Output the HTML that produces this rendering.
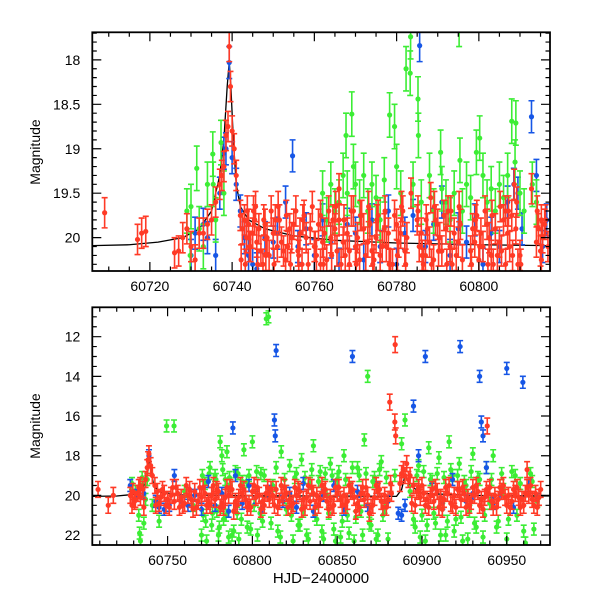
<!DOCTYPE html>
<html><head><meta charset="utf-8">
<style>
html,body{margin:0;padding:0;background:#fff;}
svg{display:block;font-family:"Liberation Sans",sans-serif;}
</style></head>
<body>
<svg id="chart" width="600" height="600" viewBox="0 0 600 600" xmlns="http://www.w3.org/2000/svg">
<defs>
<clipPath id="clipTop"><rect x="92.3" y="32.3" width="457.7" height="238.7"/></clipPath>
<clipPath id="clipBot"><rect x="92.3" y="307.3" width="457.7" height="237.7"/></clipPath>
</defs>
<g id="topPanel"></g>
<g id="botPanel"></g>
<text x="40" y="152" transform="rotate(-90 40 152)" text-anchor="middle" font-size="14">Magnitude</text>
<text x="40" y="426" transform="rotate(-90 40 426)" text-anchor="middle" font-size="14">Magnitude</text>
<text x="321" y="583" text-anchor="middle" font-size="15">HJD−2400000</text>
</svg>
<script>
// ---------- TOP PANEL DATA ----------
const topXTicks = [60720, 60740, 60760, 60780, 60800];
const topYTicks = [18, 18.5, 19, 19.5, 20];
const topYTickLabels = ["18", "18.5", "19", "19.5", "20"];
const topModelT = [60706,60715,60722,60728,60732,60735,60737,60738,60738.8,60739.3,60739.7,60740.3,60741,60742,60744,60748,60755,60765,60780,60800,60817];
const topModelMag = [20.09,20.08,20.05,20.0,19.9,19.7,19.3,18.9,18.3,18.02,18.3,18.9,19.4,19.65,19.8,19.9,19.98,20.03,20.06,20.08,20.09];

const topRedT = [60709,60717,60718,60719,60726,60727,60728,60729,60730,60731,60732,60733,60734,60735,60736,60737,60737.5,60738,60738.5,60739,60739.3,60739.6,60740,60740.5,60741,
60742,60742.5,60743,60743.5,60744,60744.5,60745,60745.5,60746,60746.5,60747,60748,60748.5,60749,60750,60751,60751.5,60752,60753,60754,60754.5,60755,60756,60756.5,60757,60758,60759,60760,60760.5,60761,60762,60762.5,60763,60764,60765,60765.5,60766,60767,60767.5,60768,60769,60770,60770.5,60771,60772,60773,60773.5,60774,60775,60775.5,60776,60777,60777.5,60778,60779,60780,60780.5,60781,60782,60782.5,60785,60785.5,60786,60787,60787.5,60788,60789,60790,60790.5,60791,60792,60793,60793.5,60794,60795,60795.5,60798,60798.5,60799,60800,60800.5,60801,60802,60802.5,60803,60804,60805,60805.5,60806,60807,60807.5,60808,60809,60810,60814,60814.5,60815,60815.5,60816,60816.8,
60743.2,60745.2,60747.5,60750.5,60753.5,60757.5,60761.5,60764.5,60768.5,60771.5,60774.5,60778.5,60781.5,60786.5,60789.5,60792.5,60796,60799.5,60803.5,60806.5,60809.5,60815.2,60766,60783.5,60808.6,60812.8,60788.3];
const topRedMag = [19.72,20.02,19.95,19.93,20.17,20.15,20.0,19.9,20.1,20.25,19.95,19.95,19.85,19.8,19.6,19.4,19.3,19.2,18.85,18.75,17.85,18.3,18.8,19.0,19.3,
19.75,19.9,19.8,20.0,19.85,20.1,19.95,19.8,20.05,19.9,20.15,19.85,20.0,20.2,19.95,20.1,19.8,20.05,20.25,19.9,20.0,19.85,20.15,19.95,20.3,20.0,19.9,20.1,20.2,19.85,20.05,19.95,20.25,20.0,19.9,20.15,19.8,20.05,20.2,19.95,19.7,20.1,20.0,20.25,19.9,20.05,19.85,20.15,20.0,19.75,20.2,19.9,20.1,19.95,20.3,19.85,20.05,19.95,20.15,20.0,19.8,20.1,19.95,20.2,19.9,20.05,20.25,19.85,20.0,20.15,19.9,20.1,20.3,19.95,20.05,19.85,20.15,19.9,20.05,20.25,19.95,20.1,19.85,20.0,20.2,19.9,20.05,20.15,19.8,19.95,20.1,19.75,19.9,20.2,20.05,19.9,20.15,20.0,19.85,20.1,
20.3,19.7,20.3,19.8,20.1,19.75,20.3,19.8,20.3,19.75,20.25,20.3,19.7,20.3,19.8,19.7,20.25,19.75,20.3,19.7,20.3,19.8,19.45,19.5,19.4,19.45,19.55];
const topRedExtraT = [60742.2,60743.7,60744.2,60745.7,60746.2,60747.7,60748.2,60749.5,60750.2,60751.2,60752.5,60753.2,60754.2,60755.5,60756.2,60757.2,60758.5,60759.5,60760.2,60761.5,60762.2,60763.5,60764.2,60765.2,60766.5,60767.2,60768.5,60769.5,60770.2,60771.2,60772.5,60773.2,60774.2,60775.2,60776.5,60777.2,60778.2,60779.5,60780.2,60781.2,60782.2,60785.2,60786.2,60787.2,60788.5,60789.2,60790.2,60791.5,60792.2,60793.2,60794.5,60795.2,60798.2,60799.2,60800.2,60801.5,60802.2,60803.2,60804.5,60805.2,60806.5,60807.2,60808.2,60809.2,60810.2,60814.2,60815.2,60816.2];
const topRedExtraMag = [20.25,19.7,20.1,19.65,20.3,19.8,20.2,19.7,20.3,19.65,20.15,19.75,20.3,19.7,20.2,19.8,20.3,19.65,20.1,19.75,20.3,19.7,20.2,19.65,20.3,19.8,20.15,19.7,20.3,19.75,20.2,19.65,20.3,19.8,20.1,19.7,20.3,19.75,20.2,19.65,20.3,19.7,20.2,19.8,20.3,19.65,20.15,19.75,20.3,19.7,20.2,19.65,20.3,19.8,20.1,19.7,20.3,19.75,20.2,19.65,20.3,19.7,20.2,19.6,20.3,19.7,20.25,19.8];
const topRedErr = 0.17;

const topBlueT = [60730,60731,60733,60734,60736,60737,60738,60738.5,60739.3,60740,60741,60742,60743,60744,60745,60746,60748,60750,60751,60753,60754.7,60756,60758,60760,60762,60764,60766,60768,60770,60772,60774,60776,60778,60780,60782,60784,60785.6,60787,60789,60791,60793,60795,60797,60799,60801,60803,60805,60807,60808.5,60809.5,60810.5,60812.8,60814,60815.5,60816.5];
const topBlueMag = [20.2,19.95,19.85,20.0,20.2,19.5,19.05,19.0,18.03,19.1,19.4,19.7,20.0,20.2,20.3,20.35,20.0,20.05,19.95,19.6,19.08,20.1,19.9,20.2,19.8,20.05,20.3,19.85,19.95,20.25,19.8,20.1,19.7,20.3,19.95,19.75,17.84,20.1,19.85,19.6,20.2,19.9,20.05,19.8,20.3,19.95,20.1,19.6,19.4,19.5,19.9,18.64,19.3,20.1,19.8];
const topBlueErr = 0.18;

const topGreenT = [60729,60729.8,60730,60731.4,60732,60733,60734,60735.3,60735.4,60736,60737.3,60738,
60762,60763,60764,60765,60766,60767,60767.7,60768,60769.1,60769.5,60770,60771,60772,60773,60774,60775,60776,60777,60778.3,60779.5,60780,60781,60782.3,60783.3,60783.4,60784,60785.2,60785.3,60786,60788,60789,60790.7,60791,60792,60793,60794,60795.2,60795.4,60796,60797,60798,60799.4,60800.2,60801,60802,60803,60804,60805,60806,60807,60808,60808.8,60809,60810,60811,60813,60814];
const topGreenMag = [19.7,20.2,19.65,19.22,19.9,20.1,19.4,19.06,19.4,19.8,18.93,19.5,
19.5,19.8,19.4,19.7,19.6,19.3,18.85,19.5,18.61,19.2,19.4,19.6,19.3,19.7,19.4,19.55,19.8,19.35,18.62,18.75,19.2,19.5,18.1,18.15,17.74,19.4,18.44,18.85,19.6,19.3,19.7,19.04,19.45,19.6,19.8,19.5,17.6,19.13,19.7,19.4,19.55,19.04,18.88,19.3,19.6,19.45,19.7,19.4,19.55,19.3,18.69,19.15,18.71,19.5,19.7,19.4,19.6];
const topGreenErr = 0.25;

// ---------- BOTTOM PANEL DATA ----------
const botXTicks = [60750, 60800, 60850, 60900, 60950];
const botYTicks = [12, 14, 16, 18, 20, 22];
const botYTickLabels = ["12", "14", "16", "18", "20", "22"];
const botModelT = [60705,60720,60730,60735,60737,60738.3,60739.3,60740.3,60742,60746,60760,60800,60850,60885,60888,60890,60893,60900,60930,60976];
const botModelMag = [20.05,20.03,19.95,19.7,19.3,18.8,18.0,18.8,19.55,19.85,19.98,20.02,20.03,20.05,19.7,19.0,19.5,19.9,20.0,20.03];

const botRedT = [60709,60715,60718,60728,60729.5,60731,60732.5,60734,60735.5,60737,60738,60739,60740,60741,60742.5,60744,60746,60748,60750,60752,60754,60756,60758,60760,60762,60764,60766,60768,60770,60772,60774,60776,60778,60780,60782,60784,60786,60788,60790,60792,60794,60796,60798,60800,60802,60804,60806,60808,60810,60812,60814,60816,60818,60820,60822,60824,60826,60828,60830,60832,60834,60836,60838,60840,60842,60844,60846,60848,60850,60852,60854,60856,60858,60860,60862,60864,60866,60868,60870,60872,60874,60876,60878,60880,60882,60887,60889,60891,60893,60895,60897,60899,60901,60903,60905,60907,60909,60911,60913,60915,60917,60919,60921,60923,60925,60927,60929,60931,60933,60935,60937,60939,60941,60943,60945,60947,60949,60951,60953,60955,60957,60959,60961,60963,60965,60967,60969,
60729,60733,60736,60743,60747,60751,60755,60759,60763,60767,60771,60775,60779,60783,60787,60791,60795,60799,60803,60807,60811,60815,60819,60823,60827,60831,60835,60839,60843,60847,60851,60855,60859,60863,60867,60871,60875,60879,60890,60894,60898,60902,60906,60910,60914,60918,60922,60926,60930,60934,60938,60942,60946,60950,60954,60958,60962,60966,60970,
60881,60884,60884.5,60938.5,60884.2,60962];
const botRedMag = [19.7,20.5,20.0,20.0,19.8,20.2,19.9,20.1,19.7,19.2,18.6,17.9,18.5,19.0,19.5,19.8,20.1,19.9,20.2,20.0,20.3,19.9,20.1,20.4,20.0,20.2,19.8,20.3,20.1,19.9,20.3,20.0,20.2,19.8,20.4,20.1,20.0,19.7,20.3,20.1,19.9,20.2,20.4,19.8,20.1,20.0,20.3,19.9,20.2,20.0,19.7,20.3,20.1,19.9,20.2,20.4,20.0,19.8,20.2,20.1,20.3,19.9,20.0,20.2,19.8,20.3,20.1,20.5,19.9,20.2,20.0,20.3,19.8,20.1,20.4,19.9,20.2,20.0,20.6,20.1,19.8,20.3,20.0,20.2,19.9,19.4,18.7,18.4,19.0,19.5,19.8,20.1,19.9,20.2,20.0,20.3,19.8,20.1,20.2,19.9,20.4,20.0,19.7,20.2,19.9,20.1,20.3,20.0,19.8,20.2,20.1,19.9,20.3,20.0,20.2,19.8,20.1,20.0,20.3,19.9,20.1,20.2,19.9,20.0,20.2,19.9,20.1,
20.5,19.6,20.6,20.5,19.7,20.6,19.6,20.5,19.7,20.6,19.6,20.5,19.7,20.6,19.6,20.5,19.7,20.6,19.6,20.5,19.7,20.6,19.6,20.5,19.7,20.6,19.6,20.5,19.7,20.6,19.6,20.5,19.7,20.6,19.6,20.5,19.7,20.6,19.0,20.4,19.6,20.5,19.7,20.6,19.6,20.5,19.7,20.6,19.6,20.5,19.7,20.6,19.6,20.5,19.7,20.6,19.6,20.5,19.7,
15.3,16.3,17.0,16.5,12.4,18.7];
const botRedExtraT = [60730.5,60733.8,60738.5,60745,60749,60753,60757,60761,60765,60769,60773,60777,60781,60785,60789,60793,60797,60801,60805,60809,60813,60817,60821,60825,60829,60833,60837,60841,60845,60849,60853,60857,60861,60865,60869,60873,60877,60881.5,60888,60892,60896,60900,60904,60908,60912,60916,60920,60924,60928,60932,60936,60940,60944,60948,60952,60956,60960,60964,60968];
const botRedExtraMag = [20.3,19.5,18.2,20.4,20.5,19.6,20.6,19.5,20.7,19.6,20.5,19.5,20.6,19.6,20.8,19.5,20.6,19.5,20.7,19.6,20.5,19.5,20.6,19.6,20.7,19.5,20.6,19.5,20.7,19.6,20.5,19.5,20.8,19.6,20.9,19.5,20.6,19.4,18.9,19.2,20.5,19.5,20.6,19.6,20.7,19.5,20.6,19.6,20.5,19.5,20.7,19.6,20.6,19.5,20.6,19.6,20.5,19.5,20.6];
const botRedErr = 0.4;

const botBlueT = [60728,60732,60736,60739,60743,60745,60748,60751,60754,60758,60762,60766,60770,60774,60778,60782,60786,60788.5,60790,60794,60798,60802,60806,60810,60813,60813.5,60814,60818,60822,60826,60830,60836,60842,60848,60854,60859,60862,60868,60874,60880,60886,60888,60890,60895,60898,60902,60906,60912,60918,60922.5,60926,60930,60934,60935,60936,60938,60942,60946,60950,60954,60959.5,60963,60968];
const botBlueMag = [19.5,20.0,19.9,18.0,20.3,20.6,20.7,20.5,19.0,20.3,20.5,20.0,20.7,19.3,20.5,19.9,20.8,16.6,19.0,20.4,19.5,20.1,20.6,19.8,16.2,17.0,12.7,20.3,19.9,20.6,19.4,20.8,20.0,19.5,20.7,13.0,19.8,20.5,19.6,20.3,20.9,21.0,20.5,15.5,18.0,13.0,19.7,20.4,19.2,12.5,20.3,19.9,14.0,16.3,17.0,18.6,20.4,19.9,13.6,20.6,14.3,19.5,20.2];
const botBlueErr = 0.3;

const botGreenT = [60729,60731,60733,60733.5,60734,60735,60736,60737,60738,60741,60745,60749.4,60753.8,60760,60765,60770,60771,60772,60773,60775,60776,60778,60779,60780,60781,60782,60783,60784,60785,60786,60787,60789,60790,60791,60792,60794,60795,60797,60798,60800,60801,60803,60805,60806,60808.2,60809.5,60812,60815,60817,60820,60822,60824,60825,60827,60829,60830,60832,60834,60836,60838,60840,60842,60844,60846,60848,60850,60852,60854,60856,60858,60860,60862,60864,60866,60868,60870,60872,60874,60876,60878,60880,60884,60888,60890,60893,60896,60898,60900,60902,60904,60906,60908,60910,60912,60914,60916,60918,60920,60922,60924,60926,60928,60930,60932,60934,60936,60938,60940,60942,60945,60948,60950,60953,60956,60958,60961,60964,60966,60968];
const botGreenMag = [19.4,19.8,21.0,21.9,22.3,19.1,21.4,20.2,19.2,20.5,21.3,16.5,16.5,19.8,20.5,22.0,21.0,19.4,22.3,18.6,21.5,19.0,20.8,22.0,17.3,18.0,21.2,19.2,17.8,22.1,19.5,21.8,18.8,20.9,22.2,19.3,17.7,21.6,19.0,17.3,20.5,22.0,18.9,21.3,11.1,11.0,19.5,21.8,17.8,20.7,18.5,22.3,19.1,21.5,18.2,20.8,22.0,19.4,17.5,21.2,18.8,22.2,20.0,18.4,21.7,19.2,22.1,18.0,21.0,19.6,22.3,18.6,20.8,17.2,14.0,21.5,19.1,22.0,18.3,20.6,22.2,19.0,17.4,16.2,19.8,21.6,18.5,21.0,22.3,17.6,19.3,21.4,18.1,20.7,22.0,17.3,19.0,21.2,18.4,22.3,19.5,20.8,17.9,21.6,19.2,22.1,18.6,20.4,18.0,21.3,19.7,22.2,18.8,21.0,19.4,22.4,18.9,21.7,20.3];
const botGreenExtraT = [60770.5,60772.5,60774.5,60776.5,60778.5,60780.5,60782.5,60784.5,60786.5,60788,60791.5,60793.5,60796.5,60799,60802.5,60804.5,60807,60811,60814,60816.5,60819,60823,60826,60828,60831,60833,60835,60837,60839,60841,60843,60845,60847,60849,60851,60853,60855,60857,60859,60861,60863,60865,60867,60869,60871,60873,60875,60877,60879,60895,60897,60899,60901,60903,60905,60907,60909,60911,60913,60915,60917,60919,60921,60923,60925,60927,60929,60931,60933,60937,60941,60944,60947,60951,60955,60960,60965];
const botGreenExtraMag = [19.0,21.3,18.9,20.9,19.2,21.6,18.7,21.0,19.1,22.0,18.9,21.2,19.3,21.7,18.8,20.9,19.0,21.4,18.6,22.1,19.2,21.0,18.9,21.5,19.1,22.2,18.7,21.0,19.3,21.8,18.9,20.9,19.0,22.3,18.8,21.3,19.2,21.9,18.6,21.1,19.0,22.0,18.9,21.4,19.3,22.2,18.7,21.0,19.1,21.2,19.0,22.1,18.8,21.5,19.2,20.9,18.9,22.0,19.1,21.3,18.7,21.8,19.0,21.1,19.3,22.2,18.8,21.4,19.1,21.0,19.2,21.6,18.9,21.2,19.0,21.8,19.3];
const botGreenErr = 0.3;

// ---------- AXIS FUNCTIONS ----------
const TL = 92.3, TR = 550, TT = 32.3, TB = 271;
const BL = 92.3, BR = 550, BT = 307.3, BB = 545;
const topTMin = 60706.0, topTMax = 60817.3, topMMin = 17.69, topMMax = 20.375;
const botTMin = 60705.6, botTMax = 60975.5, botMMin = 10.52, botMMax = 22.5;
function xTop(t){ return TL + (t - topTMin) / (topTMax - topTMin) * (TR - TL); }
function yTop(m){ return TT + (m - topMMin) / (topMMax - topMMin) * (TB - TT); }
function xBot(t){ return BL + (t - botTMin) / (botTMax - botTMin) * (BR - BL); }
function yBot(m){ return BT + (m - botMMin) / (botMMax - botMMin) * (BB - BT); }

const NS = "http://www.w3.org/2000/svg";
function mk(tag, attrs, parent){
  const e = document.createElementNS(NS, tag);
  for (const k in attrs) e.setAttribute(k, attrs[k]);
  parent.appendChild(e);
  return e;
}
const COL = {red:"#ff3a26", blue:"#1656e6", green:"#3ced35"};

function drawSeries(parent, ts, ms, err, color, xf, yf, name){
  const g = mk("g", {}, parent);
  
  
  const n = Math.min(ts.length, ms.length);
  for (let i = 0; i < n; i++){
    const x = xf(ts[i]), y = yf(ms[i]);
    const y1 = yf(ms[i] - err), y2 = yf(ms[i] + err);
    const p = mk("path", {d:`M${x} ${y1}V${y2}M${x-3} ${y1}h6M${x-3} ${y2}h6`, stroke:color, "stroke-width":1.6, fill:"none"}, g);
    
    
    const c = mk("circle", {cx:x, cy:y, r:2.6, fill:color}, g);
    
    
  }
}
function drawModel(parent, ts, ms, xf, yf, name){
  let d = "";
  for (let i = 0; i < Math.min(ts.length, ms.length); i++) d += (i ? "L" : "M") + xf(ts[i]).toFixed(2) + " " + yf(ms[i]).toFixed(2);
  const p = mk("path", {d:d, stroke:"#000", "stroke-width":1.3, fill:"none"}, parent);
  
  
}
function drawFrame(parent, L, R, T, B, xf, yf, xMajor, xMinorStep, xMin, xMax, yMajor, yLabels, yMinorStep, yMin, yMax, prefix){
  const g = mk("g", {stroke:"#000", "stroke-width":1.2, fill:"none"}, parent);
  
  
  let d = "";
  for (let v = Math.ceil(xMin / xMinorStep) * xMinorStep; v <= xMax; v += xMinorStep){
    const x = xf(v);
    const major = xMajor.some(m => Math.abs(m - v) < 1e-6);
    const len = major ? 9 : 4.5;
    d += `M${x} ${B}v${-len}M${x} ${T}v${len}`;
  }
  for (let v = Math.ceil(yMin / yMinorStep - 1e-9) * yMinorStep; v <= yMax + 1e-9; v += yMinorStep){
    const y = yf(v);
    const major = yMajor.some(m => Math.abs(m - v) < 1e-6);
    const len = major ? 9 : 4.5;
    d += `M${L} ${y}h${len}M${R} ${y}h${-len}`;
  }
  const ticks = mk("path", {d:d}, g);
  
  
  const fr = mk("rect", {x:L, y:T, width:R - L, height:B - T, "stroke-width":1.8}, g);
  
  
  xMajor.forEach(v => {
    const t = mk("text", {x:xf(v), y:B + 20, "text-anchor":"middle", "font-size":14, fill:"#000"}, parent);
    t.textContent = String(v);
    
    
  });
  yMajor.forEach((v, i) => {
    const t = mk("text", {x:L - 12, y:yf(v) + 5, "text-anchor":"end", "font-size":14, fill:"#000"}, parent);
    t.textContent = yLabels[i];
    
    
  });
}

// ---- top ----
const topG = document.getElementById("topPanel");
const topData = mk("g", {"clip-path":"url(#clipTop)"}, topG);


drawModel(topData, topModelT, topModelMag, xTop, yTop, 'top-model-curve');
drawSeries(topData, topBlueT, topBlueMag, topBlueErr, COL.blue, xTop, yTop, 'top-blue-series');
drawSeries(topData, topGreenT, topGreenMag, topGreenErr, COL.green, xTop, yTop, 'top-green-series');
drawSeries(topData, topRedT, topRedMag, topRedErr, COL.red, xTop, yTop, 'top-red-series');
drawSeries(topData, topRedExtraT, topRedExtraMag, topRedErr, COL.red, xTop, yTop, 'top-red-series-extra');
drawFrame(topG, TL, TR, TT, TB, xTop, yTop, topXTicks, 5, topTMin, topTMax, topYTicks, topYTickLabels, 0.1, topMMin, topMMax, 'top');

// ---- bottom ----
const botG = document.getElementById("botPanel");
const botData = mk("g", {"clip-path":"url(#clipBot)"}, botG);


drawModel(botData, botModelT, botModelMag, xBot, yBot, 'bottom-model-curve');
drawSeries(botData, botGreenT, botGreenMag, botGreenErr, COL.green, xBot, yBot, 'bottom-green-series');
drawSeries(botData, botGreenExtraT, botGreenExtraMag, botGreenErr, COL.green, xBot, yBot, 'bottom-green-series-extra');
drawSeries(botData, botBlueT, botBlueMag, botBlueErr, COL.blue, xBot, yBot, 'bottom-blue-series');
drawSeries(botData, botRedT, botRedMag, botRedErr, COL.red, xBot, yBot, 'bottom-red-series');
drawSeries(botData, botRedExtraT, botRedExtraMag, botRedErr, COL.red, xBot, yBot, 'bottom-red-series-extra');
drawFrame(botG, BL, BR, BT, BB, xBot, yBot, botXTicks, 10, botTMin, botTMax, botYTicks, botYTickLabels, 0.5, botMMin, botMMax, 'bottom');
</script>
</body></html>
